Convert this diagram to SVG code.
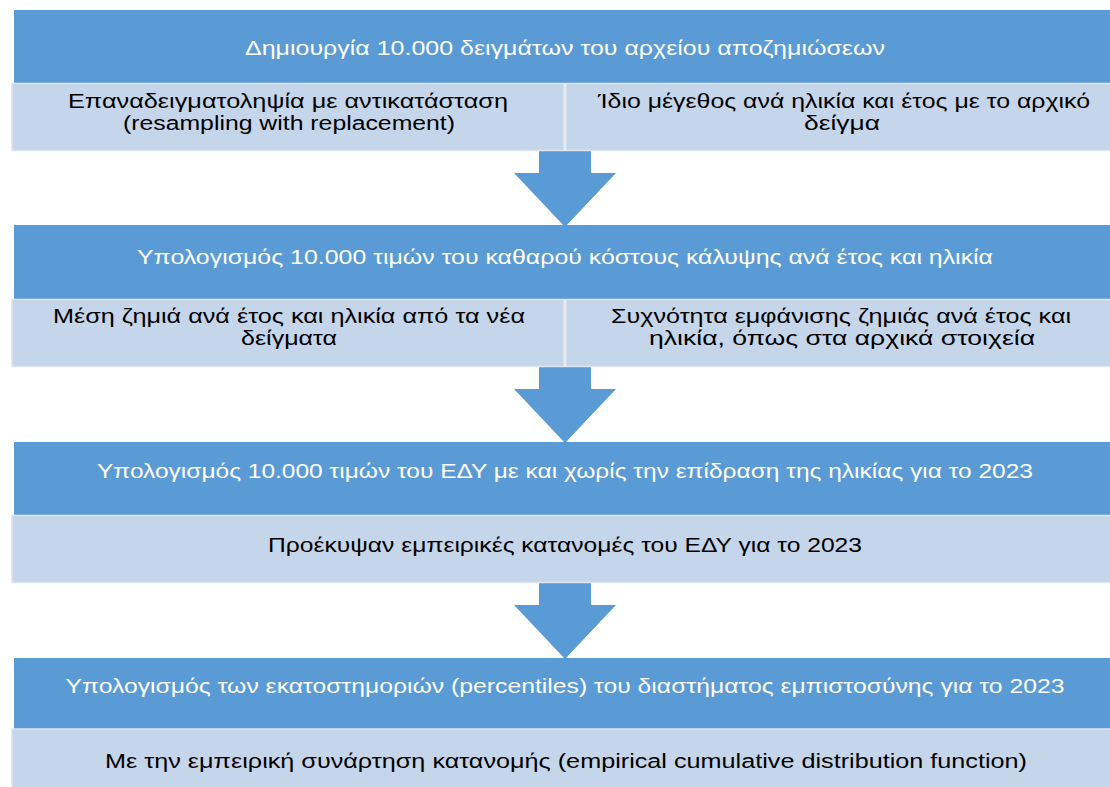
<svg xmlns="http://www.w3.org/2000/svg" width="1110" height="787" viewBox="0 0 1110 787">
<style>
.h{fill:#5B9BD5}
.s{fill:#C5D5EA;stroke:#DCE5F1;stroke-width:1.5}
.a{fill:#5B9BD5}
text{font-family:"Liberation Sans","DejaVu Sans",sans-serif;font-size:20px;text-anchor:middle}
.ht{fill:#FFFFFF}
.st{fill:#000000}
</style>
<rect width="1110" height="787" fill="#FFFFFF"/>
<g id="connectors">
<polygon class="a" points="539,151 591,151 591,173 616,173 565,227 514,173 539,173"/>
<polygon class="a" points="539,367 591,367 591,389 616,389 565,443 514,389 539,389"/>
<polygon class="a" points="539,583 591,583 591,605 616,605 565,659 514,605 539,605"/>
</g>
<g id="step1">
<rect class="h" x="14" y="10" width="1106" height="73"/>
<text class="ht" x="565" y="55" textLength="640" lengthAdjust="spacingAndGlyphs">Δημιουργία 10.000 δειγμάτων του αρχείου αποζημιώσεων</text>
</g>
<g id="step1-left">
<rect class="s" x="12" y="83.5" width="552" height="67"/>
<text class="st" x="288" y="107.5" textLength="440" lengthAdjust="spacingAndGlyphs">Επαναδειγματοληψία με αντικατάσταση</text>
<text class="st" x="289" y="130" textLength="332" lengthAdjust="spacingAndGlyphs">(resampling with replacement)</text>
</g>
<g id="step1-right">
<rect class="s" x="566" y="83.5" width="556" height="67"/>
<text class="st" x="844" y="107.5" textLength="492" lengthAdjust="spacingAndGlyphs">Ίδιο μέγεθος ανά ηλικία και έτος με το αρχικό</text>
<text class="st" x="842" y="130" textLength="76" lengthAdjust="spacingAndGlyphs">δείγμα</text>
</g>
<g id="step2">
<rect class="h" x="14" y="225" width="1106" height="74"/>
<text class="ht" x="565" y="264" textLength="856" lengthAdjust="spacingAndGlyphs">Υπολογισμός 10.000 τιμών του καθαρού κόστους κάλυψης ανά έτος και ηλικία</text>
</g>
<g id="step2-left">
<rect class="s" x="12" y="299.5" width="552" height="67"/>
<text class="st" x="289" y="322.5" textLength="472" lengthAdjust="spacingAndGlyphs">Μέση ζημιά ανά έτος και ηλικία από τα νέα</text>
<text class="st" x="289" y="345" textLength="96" lengthAdjust="spacingAndGlyphs">δείγματα</text>
</g>
<g id="step2-right">
<rect class="s" x="566" y="299.5" width="556" height="67"/>
<text class="st" x="841" y="322.5" textLength="460" lengthAdjust="spacingAndGlyphs">Συχνότητα εμφάνισης ζημιάς ανά έτος και</text>
<text class="st" x="842" y="345" textLength="386" lengthAdjust="spacingAndGlyphs">ηλικία, όπως στα αρχικά στοιχεία</text>
</g>
<g id="step3">
<rect class="h" x="14" y="442" width="1106" height="73"/>
<text class="ht" x="565" y="478" textLength="936" lengthAdjust="spacingAndGlyphs">Υπολογισμός 10.000 τιμών του ΕΔΥ με και χωρίς την επίδραση της ηλικίας για το 2023</text>
</g>
<g id="step3-sub">
<rect class="s" x="12" y="515.5" width="1110" height="67"/>
<text class="st" x="565" y="552" textLength="594" lengthAdjust="spacingAndGlyphs">Προέκυψαν εμπειρικές κατανομές του ΕΔΥ για το 2023</text>
</g>
<g id="step4">
<rect class="h" x="14" y="658" width="1106" height="71"/>
<text class="ht" x="565" y="693" textLength="999" lengthAdjust="spacingAndGlyphs">Υπολογισμός των εκατοστημοριών (percentiles) του διαστήματος εμπιστοσύνης για το 2023</text>
</g>
<g id="step4-sub">
<rect class="s" x="12" y="729" width="1110" height="67"/>
<text class="st" x="566" y="768" textLength="922" lengthAdjust="spacingAndGlyphs">Με την εμπειρική συνάρτηση κατανομής (empirical cumulative distribution function)</text>
</g>
</svg>
